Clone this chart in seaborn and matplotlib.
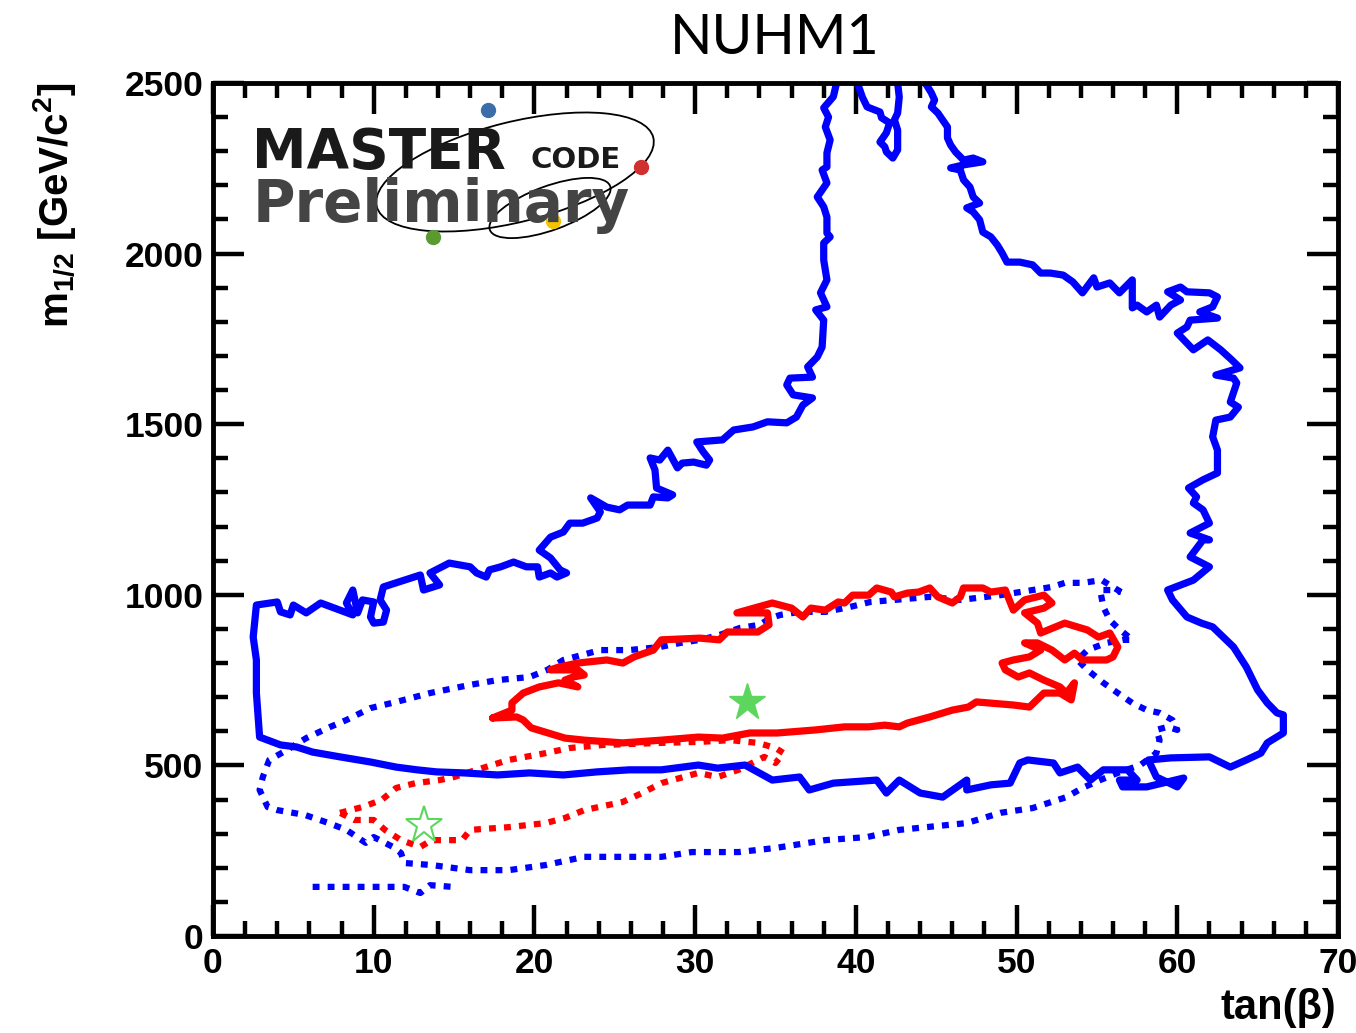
import numpy as np
import pandas as pd
import matplotlib
matplotlib.use("Agg")
import matplotlib.pyplot as plt
from matplotlib.patches import Ellipse
import seaborn as sns

sns.set_theme(style="ticks")
plt.rcParams['font.family'] = ['Liberation Sans', 'DejaVu Sans']
plt.rcParams['mathtext.default'] = 'regular'
plt.rcParams['text.color'] = 'black'
plt.rcParams['xtick.color'] = 'black'
plt.rcParams['ytick.color'] = 'black'

# ---- contour data: tan(beta), m_1/2 [GeV] ----
# 95% CL, current fit (blue solid), open at the top of the frame
blue95_tb = [38.8, 38.6, 38.0, 38.3, 38.1, 38.4, 38.2, 38.2, 37.9, 38.2, 37.6, 38.0, 38.2, 38.2,
             38.4, 38.0, 38.0, 38.2, 37.8, 38.2, 37.5, 38.0, 37.9, 37.6, 37.0, 37.3, 35.9, 35.7,
             36.1, 37.3, 36.7, 36.3, 35.7, 34.5, 33.6, 32.4, 31.7, 30.1, 30.5, 30.9, 30.7, 29.9,
             29.2, 28.9, 28.3, 27.8, 27.2, 27.5, 27.6, 28.6, 28.3, 27.4, 27.2, 25.8, 25.3, 24.5,
             23.5, 24.1, 23.9, 23.0, 22.2, 21.8, 21.0, 20.3, 21.0, 21.6, 22.0, 21.4, 21.0, 20.3,
             20.2, 19.5, 18.7, 17.9, 17.2, 17.0, 16.4, 16.0, 14.7, 13.5, 14.1, 13.1, 12.9, 10.6,
             10.4, 10.8, 10.6, 10.0, 9.8, 10.0, 9.3, 9.0, 8.7, 8.3, 8.7, 7.9, 6.7, 5.8, 5.0, 4.8,
             4.2, 4.0, 2.7, 2.5, 2.7, 2.7, 2.9, 4.2, 5.2, 6.2, 7.9, 9.8, 11.4, 12.7, 13.9, 15.6,
             17.7, 19.7, 21.8, 23.9, 25.9, 27.9, 30.2, 31.4, 33.1, 34.8, 36.5, 37.1, 38.6, 41.3,
             41.9, 42.7, 44.0, 45.4, 46.9, 46.9, 48.4, 49.6, 50.2, 50.7, 52.3, 52.7, 53.8, 54.6,
             55.4, 56.9, 57.5, 56.4, 56.6, 58.1, 60.4, 60.0, 58.7, 58.2, 59.6, 62.0, 63.3, 64.3,
             65.2, 65.6, 66.6, 66.6, 66.2, 65.6, 65.0, 64.3, 63.5, 62.2, 61.5, 60.6, 59.7, 59.4,
             61.0, 62.0, 60.8, 61.6, 62.0, 60.8, 62.0, 61.6, 61.0, 61.2, 60.7, 61.6, 62.5, 62.5,
             62.2, 62.4, 63.3, 63.8, 63.3, 63.7, 63.5, 62.4, 63.9, 63.4, 62.7, 61.9, 61.0, 60.0,
             60.6, 60.8, 62.5, 61.4, 62.2, 62.5, 62.0, 60.6, 60.2, 59.4, 60.2, 59.6, 58.9, 58.7,
             58.1, 57.5, 57.2, 57.2, 56.4, 55.8, 55.0, 54.8, 54.1, 53.5, 52.9, 52.1, 51.5, 51.0,
             50.2, 49.4, 49.1, 48.8, 48.4, 47.9, 47.7, 47.3, 46.9, 47.7, 47.3, 47.1, 46.7, 46.5,
             45.9, 46.7, 47.9, 47.3, 46.7, 46.2, 45.9, 45.7, 45.7, 45.1, 44.7, 44.9, 44.7, 44.4,
             44.3]
blue95_m = [2500, 2460, 2427, 2400, 2371, 2333, 2295, 2254, 2245, 2207, 2166, 2137, 2107, 2060,
            2049, 2031, 1981, 1923, 1885, 1844, 1835, 1805, 1726, 1697, 1668, 1638, 1635, 1615,
            1586, 1577, 1556, 1521, 1504, 1507, 1492, 1483, 1454, 1448, 1419, 1395, 1380, 1389,
            1386, 1372, 1424, 1395, 1401, 1366, 1313, 1293, 1284, 1287, 1263, 1263, 1249, 1257,
            1284, 1243, 1225, 1210, 1210, 1184, 1169, 1131, 1108, 1073, 1064, 1052, 1064, 1052,
            1082, 1082, 1096, 1082, 1073, 1052, 1064, 1082, 1093, 1064, 1029, 1014, 1058, 1023,
            985, 955, 920, 917, 935, 979, 985, 947, 1014, 976, 941, 955, 976, 947, 970, 941,
            950, 979, 970, 876, 809, 712, 583, 560, 554, 539, 525, 510, 495, 487, 481, 478,
            472, 478, 472, 481, 487, 487, 501, 492, 501, 457, 466, 428, 448, 457,
            419, 457, 419, 407, 457, 428, 443, 448, 507, 516, 507, 478, 495, 457,
            487, 487, 457, 457, 437, 437, 463, 437, 466, 516, 522, 525, 495, 516,
            536, 566, 595, 648, 654, 683, 721, 788, 847, 906, 917, 935, 985, 1014,
            1043, 1082, 1111, 1161, 1161, 1181, 1210, 1249, 1269, 1287, 1313, 1337, 1357, 1424,
            1463, 1512, 1521, 1550, 1565, 1621, 1635, 1644, 1665, 1688, 1718, 1747, 1718, 1767,
            1785, 1805, 1811, 1829, 1844, 1873, 1885, 1888, 1902, 1888, 1864, 1849, 1814, 1849,
            1829, 1849, 1841, 1923, 1885, 1914, 1902, 1929, 1885, 1917, 1937, 1943, 1943, 1967,
            1975, 1975, 2002, 2025, 2049, 2063, 2099, 2122, 2134, 2148, 2166, 2195, 2216, 2245,
            2251, 2260, 2269, 2280, 2274, 2298, 2318, 2339, 2371, 2412, 2430, 2450, 2471, 2494,
            2500]
# small blue solid loop hanging from the top of the frame
blue95_loop_tb = [40.1, 40.4, 40.7, 41.5, 41.6, 42.1, 41.9, 41.5, 41.8, 41.9, 42.3, 42.6, 42.6,
                  42.6, 42.4, 42.6, 42.7, 42.6]
blue95_loop_m = [2500, 2459, 2430, 2415, 2398, 2383, 2354, 2327, 2313, 2298, 2280, 2304, 2333,
                 2362, 2392, 2412, 2459, 2500]

# 68% CL, current fit (red solid, closed)
red68_tb = [17.4, 18.6, 18.6, 19.3, 20.3, 21.5, 22.7, 21.9, 22.4, 23.1, 22.7, 21.0, 21.5, 22.7,
            24.5, 25.5, 26.2, 27.4, 27.9, 30.3, 31.5, 32.0, 33.9, 34.6, 34.5, 32.6, 34.8, 36.0,
            36.7, 37.2, 38.1, 38.9, 39.3, 39.8, 40.8, 41.3, 42.2, 42.4, 43.2, 43.9, 44.6, 45.1,
            46.0, 46.5, 46.7, 47.9, 48.4, 49.3, 49.8, 50.5, 51.7, 52.2, 51.7, 50.5, 51.3, 51.5,
            53.0, 54.4, 55.1, 55.8, 56.3, 56.0, 55.6, 54.1, 53.6, 53.0, 52.2, 51.3, 50.5, 51.5,
            50.8, 49.8, 49.1, 49.3, 50.1, 50.8, 51.7, 52.7, 53.1, 53.6, 53.4, 52.7, 51.7, 50.8,
            49.8, 47.5, 47.0, 46.0, 44.6, 43.2, 42.7, 41.8, 40.8, 39.3, 37.5, 35.1, 33.4, 31.7,
            30.2, 27.9, 25.5, 23.1, 21.9, 19.8, 19.3, 18.9]
red68_m = [639, 662, 683, 712, 730, 742, 730, 750, 759, 765, 780, 780, 788, 800,
           809, 800, 818, 838, 868, 873, 868, 891, 891, 912, 947, 947, 976, 961,
           935, 961, 955, 979, 976, 999, 999, 1020, 1008, 994, 1005, 1008, 1020, 994,
           976, 994, 1020, 1020, 1008, 1014, 955, 985, 999, 976, 961, 947, 917, 888,
           917, 897, 876, 888, 847, 818, 809, 809, 829, 809, 838, 859, 859, 838,
           818, 809, 800, 780, 759, 771, 750, 730, 712, 742, 692, 712, 712, 671,
           677, 686, 671, 662, 642, 624, 613, 618, 613, 613, 604, 595, 595, 580,
           583, 574, 566, 574, 580, 610, 633, 642]

# 95% CL, previous fit (blue dotted, closed)
blue95_old_tb = [56.5, 55.3, 54.1, 53.0, 52.2, 49.0, 46.5, 44.6, 42.4, 40.9, 39.6, 38.1, 36.5,
                 35.3, 34.7, 34.0, 32.8, 31.5, 30.3, 29.1, 27.8, 25.9, 24.1, 21.8, 20.8, 19.7,
                 17.7, 16.0, 13.5, 11.4, 9.8, 8.3, 7.3, 5.8, 4.6, 3.5, 3.1, 2.9, 3.4, 4.0, 5.7,
                 7.2, 8.3, 9.5, 10.0, 11.2, 11.7, 11.9, 13.6, 16.0, 18.4, 20.7, 23.1, 25.5, 27.9,
                 29.8, 32.7, 35.0, 38.1, 40.7, 42.7, 46.9, 49.0, 51.0, 53.1, 54.1, 55.2, 56.3,
                 57.7, 58.7, 58.9, 58.7, 59.4, 60.0, 59.7, 58.9, 58.1, 57.2, 56.3, 55.4, 54.4,
                 53.8, 54.4, 55.6, 56.6, 57.2, 56.3, 55.8, 55.4, 55.2, 56.0]
blue95_old_m = [1008, 1043, 1035, 1035, 1023, 999, 985, 994, 985, 979, 964, 950, 950,
                941, 932, 912, 903, 882, 868, 859, 847, 838, 838, 809, 780, 759,
                750, 736, 712, 686, 668, 633, 613, 580, 545, 516, 466, 428, 378, 369, 355,
                331, 311, 273, 290, 261, 243, 214, 208, 193, 193, 208, 232, 232, 232,
                246, 246, 258, 281, 290, 311, 331, 361, 375, 407, 434, 457, 478,
                501, 536, 574, 604, 613, 604, 633, 654, 662, 683, 712, 742, 780,
                809, 838, 859, 868, 868, 903, 926, 964, 1014, 1014]
# short detached blue dotted piece at low m_1/2
blue95_old_tail_tb = [6.2, 9.1, 11.9, 12.9, 13.5, 14.9]
blue95_old_tail_m = [144, 144, 144, 126, 149, 144]

# 68% CL, previous fit (red dotted, closed)
red68_old_tb = [7.9, 9.3, 10.5, 11.4, 12.6, 14.1, 15.0, 16.4, 18.4, 20.7, 22.2, 24.3, 27.9, 30.3,
                32.2, 33.9, 35.0, 35.5, 35.0, 34.3, 32.7, 31.4, 30.2, 27.9, 26.7, 25.5, 23.1,
                21.9, 20.7, 18.4, 16.0, 15.5, 13.6, 12.9, 11.7, 10.7, 10.0, 8.8]
red68_old_m = [361, 378, 399, 434, 448, 457, 466, 487, 516, 536, 551, 560, 566, 569,
               574, 566, 551, 536, 507, 525, 487, 466, 478, 448, 419, 393, 369,
               346, 331, 319, 311, 281, 281, 261, 281, 311, 340, 340]

# best-fit points
best_tb = [33.2]
best_m = [686]
old_best_tb = [13.1]
old_best_m = [325]


def closed(xs, ys):
    return pd.DataFrame({"tb": list(xs) + [xs[0]], "m": list(ys) + [ys[0]]})


def opened(xs, ys):
    return pd.DataFrame({"tb": xs, "m": ys})


W, H = 1356, 1033
fig = plt.figure(figsize=(W / 100, H / 100), dpi=100)
ax = fig.add_axes([213 / W, 97 / H, 1125 / W, 853 / H])

dot = (0, (1.1, 1.3))
line_kw = dict(sort=False, estimator=None, ax=ax, legend=False)

sns.lineplot(data=closed(blue95_old_tb, blue95_old_m), x="tb", y="m", color="#0000ff",
             lw=4.5, linestyle=dot, **line_kw)
sns.lineplot(data=opened(blue95_old_tail_tb, blue95_old_tail_m), x="tb", y="m", color="#0000ff",
             lw=4.5, linestyle=dot, **line_kw)
sns.lineplot(data=closed(red68_old_tb, red68_old_m), x="tb", y="m", color="#ff0000",
             lw=4.5, linestyle=dot, **line_kw)
sns.lineplot(data=opened(blue95_tb, blue95_m), x="tb", y="m", color="#0000ff", lw=5.2, **line_kw)
sns.lineplot(data=opened(blue95_loop_tb, blue95_loop_m), x="tb", y="m", color="#0000ff",
             lw=5.2, **line_kw)
sns.lineplot(data=closed(red68_tb, red68_m), x="tb", y="m", color="#ff0000", lw=5.2, **line_kw)

ax.plot(best_tb, best_m, marker="*", ms=28, color="#5cd65c", mec="#5cd65c", ls="none", zorder=5)
ax.plot(old_best_tb, old_best_m, marker="*", ms=28, mfc="none", mec="#5cd65c", mew=1.5,
        ls="none", zorder=5)

ax.set_xlim(0, 70)
ax.set_ylim(0, 2500)
ax.set_xticks(np.arange(0, 71, 10))
ax.set_xticks(np.arange(0, 71, 2), minor=True)
ax.set_yticks(np.arange(0, 2501, 500))
ax.set_yticks(np.arange(0, 2501, 100), minor=True)
ax.set_xlabel("")
ax.set_ylabel("")
ax.tick_params(which="both", direction="in", top=True, right=True, width=3.2, color="black",
               labelcolor="black")
ax.tick_params(which="major", length=22)
ax.tick_params(which="minor", length=11)
ax.tick_params(axis="x", which="major", pad=8)
ax.tick_params(axis="y", which="major", pad=7)
for lab in ax.get_xticklabels() + ax.get_yticklabels():
    lab.set_fontsize(25.5)
    lab.set_fontweight("bold")
for sp in ax.spines.values():
    sp.set_linewidth(3.5)
    sp.set_color("black")
    sp.set_visible(True)

fig.text(775 / W, 1 - 38 / H, "NUHM1", ha="center", va="center", fontsize=40,
         family=["Lato", "DejaVu Sans"], color="black")
fig.text(1336 / W, 1 - 1008 / H, "tan(\u03b2)", ha="right", va="center", fontsize=30,
         fontweight="bold", color="black")
fig.text(55 / W, 1 - 83 / H, r"m$_{1/2}$ [GeV/c$^{2}$]", rotation=90, ha="center", va="top",
         fontsize=29, fontweight="bold", color="black")

# MasterCode logo, drawn in its own axes that uses pixel units
lx0, lx1, ly0, ly1 = 240, 670, 90, 250
lax = fig.add_axes([lx0 / W, 1 - ly1 / H, (lx1 - lx0) / W, (ly1 - ly0) / H])
lax.set_xlim(lx0, lx1)
lax.set_ylim(ly1, ly0)
lax.axis("off")
lax.patch.set_alpha(0)
lax.text(252, 168, "MASTER", fontsize=39.5, fontweight="bold", color="#1a1a1a",
         family="DejaVu Sans", va="baseline", ha="left")
lax.text(530, 168, "CODE", fontsize=21, fontweight="bold", color="#1a1a1a",
         family="DejaVu Sans", va="baseline", ha="left")
lax.text(253, 222, "Preliminary", fontsize=41.8, fontweight="bold", color="#444444",
         family="DejaVu Sans", va="baseline", ha="left")
lax.add_patch(Ellipse((515, 172), 285, 100, angle=-14, fill=False, ec="black", lw=1.3))
lax.add_patch(Ellipse((550, 208), 128, 44, angle=-20, fill=False, ec="black", lw=1.3))
lax.plot([488], [110], "o", ms=10, color="#3b6ea8")
lax.plot([641], [167], "o", ms=10, color="#d03030")
lax.plot([433], [237], "o", ms=10, color="#5a9a30")
lax.plot([553], [221], "o", ms=10, color="#f5c400")

fig.savefig("out.png", dpi=100)
